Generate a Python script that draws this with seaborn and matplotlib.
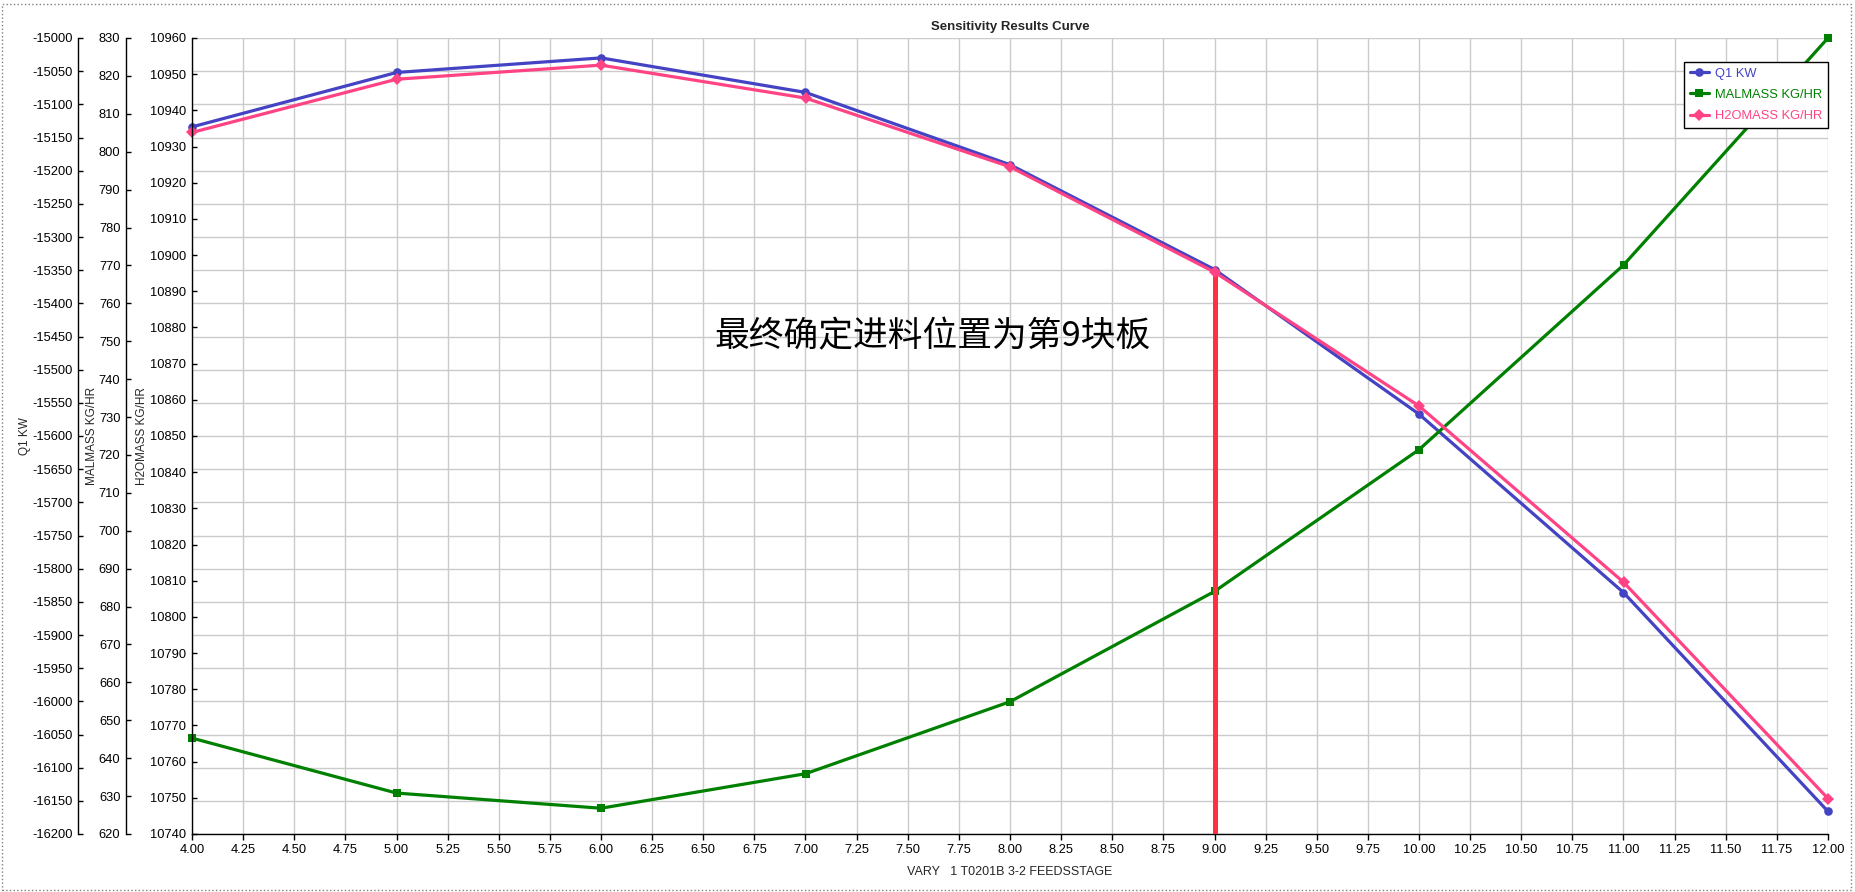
import matplotlib
matplotlib.use("Agg")
import matplotlib.pyplot as plt
import matplotlib.ticker as mticker
from matplotlib.patches import Rectangle
from matplotlib.lines import Line2D
import seaborn as sns
import numpy as np
import pandas as pd

# feed stage values (x) and the three result series
stages = [4, 5, 6, 7, 8, 9, 10, 11, 12]
q1_kw = [-15134, -15052, -15030, -15082, -15191, -15349, -15567, -15836, -16166]
malmass = [645.3, 630.8, 626.8, 635.9, 654.9, 684.0, 721.4, 770.1, 830.0]
h2omass = [10933.9, 10948.6, 10952.5, 10943.4, 10924.4, 10895.3, 10858.3, 10809.6, 10749.8]
chosen_stage = 9

df = pd.DataFrame({"stage": stages, "Q1 KW": q1_kw,
                   "MALMASS KG/HR": malmass, "H2OMASS KG/HR": h2omass})

sns.set_theme(style="white")
plt.rcParams["font.family"] = ["Liberation Sans", "DejaVu Sans"]
plt.rcParams["axes.unicode_minus"] = False

W, H = 1855, 892
fig = plt.figure(figsize=(W / 100, H / 100), dpi=100)
x0, x1, y0, y1 = 192, 1828, 38, 834
ax = fig.add_axes([x0 / W, 1 - y1 / H, (x1 - x0) / W, (y1 - y0) / H])
ax_m = ax.twinx()
ax_h = ax.twinx()

c_blue, c_green, c_pink, c_red = "#4343c4", "#008000", "#ff4384", "#ff3040"
lw = 2.3
ms = {"o": 6.2, "s": 6.0, "D": 6.4}

sns.lineplot(data=df, x="stage", y="Q1 KW", ax=ax, color=c_blue, lw=lw,
             marker="o", markersize=ms["o"], markeredgewidth=0, label="Q1 KW", legend=False)
sns.lineplot(data=df, x="stage", y="MALMASS KG/HR", ax=ax_m, color=c_green, lw=lw,
             marker="s", markersize=ms["s"], markeredgewidth=0, label="MALMASS KG/HR", legend=False)
sns.lineplot(data=df, x="stage", y="H2OMASS KG/HR", ax=ax_h, color=c_pink, lw=lw,
             marker="D", markersize=ms["D"], markeredgewidth=0, label="H2OMASS KG/HR", legend=False)

# red marker line for the chosen feed stage
h_at = h2omass[stages.index(chosen_stage)]
ax_h.vlines(chosen_stage, 10740, h_at, color=c_red, lw=3.6, zorder=1)

for a in (ax, ax_m, ax_h):
    for ln in a.get_lines():
        ln.set_clip_on(False)

# limits and ticks
ax.set_xlim(4, 12)
ax.xaxis.set_major_locator(mticker.MultipleLocator(0.25))
ax.xaxis.set_major_formatter(mticker.FormatStrFormatter("%.2f"))
ax.set_ylim(-16200, -15000)
ax.yaxis.set_major_locator(mticker.MultipleLocator(50))
ax_m.set_ylim(620, 830)
ax_m.yaxis.set_major_locator(mticker.MultipleLocator(10))
ax_h.set_ylim(10740, 10960)
ax_h.yaxis.set_major_locator(mticker.MultipleLocator(10))

ax.grid(True, color="#cbcbcb", lw=1.0)
ax.set_axisbelow(True)

pw = x1 - x0
for a, xs in ((ax, 78), (ax_m, 126), (ax_h, 192)):
    for s in a.spines.values():
        s.set_visible(False)
    a.spines["left"].set_visible(True)
    a.spines["left"].set_position(("axes", (xs - x0) / pw))
    a.spines["left"].set_color("black")
    a.spines["left"].set_linewidth(1.0)
    a.yaxis.set_ticks_position("left")
    a.yaxis.set_label_position("left")
    a.tick_params(axis="y", which="major", left=True, right=False, labelleft=True,
                  labelright=False, direction="in", length=3.5, width=1, color="black",
                  pad=4, labelsize=9.3, labelcolor="black")
ax.spines["bottom"].set_visible(True)
ax.spines["bottom"].set_color("black")
ax.spines["bottom"].set_linewidth(1.0)
ax.tick_params(axis="x", bottom=True, direction="out", length=4, width=1, color="black",
               pad=3, labelsize=9.3, labelcolor="black")
ax_m.patch.set_visible(False)
ax_h.patch.set_visible(False)

# axis titles
ax.set_xlabel("VARY   1 T0201B 3-2 FEEDSSTAGE", fontsize=9)
ax.xaxis.set_label_coords(0.5, -(866 - y1) / (y1 - y0))
for a, lbl, xr in ((ax, "Q1 KW", 31), (ax_m, "MALMASS KG/HR", 98), (ax_h, "H2OMASS KG/HR", 148)):
    a.set_ylabel(lbl, fontsize=8.5)
    a.yaxis.set_label_coords((xr - x0) / pw, 0.5)

ax.set_title("Sensitivity Results Curve", fontsize=9.5, fontweight="bold", pad=6)

# annotation
ax_h.text((932 - x0) / pw, 1 - (337 - y0) / (y1 - y0), "最终确定进料位置为第9块板",
          transform=ax_h.transAxes, ha="center", va="center", fontsize=25,
          family=["Noto Sans CJK SC", "DejaVu Sans"], color="black")

# legend
handles = [Line2D([], [], color=c_blue, lw=lw, marker="o", markersize=ms["o"], markeredgewidth=0),
           Line2D([], [], color=c_green, lw=lw, marker="s", markersize=ms["s"], markeredgewidth=0),
           Line2D([], [], color=c_pink, lw=lw, marker="D", markersize=ms["D"], markeredgewidth=0)]
leg = ax_h.legend(handles, ["Q1 KW", "MALMASS KG/HR", "H2OMASS KG/HR"],
                  loc="upper right", bbox_to_anchor=(1.0, 1 - (62 - y0) / (y1 - y0)),
                  borderaxespad=0, fancybox=False, framealpha=1, edgecolor="black",
                  fontsize=9.3, handlelength=1.5, handletextpad=0.45, labelspacing=0.7,
                  borderpad=0.45)
leg.get_frame().set_linewidth(1.0)
for t, c in zip(leg.get_texts(), (c_blue, c_green, c_pink)):
    t.set_color(c)

# dotted frame around the whole chart
fig.patches.append(Rectangle((2 / W, 2 / H), 1 - 6 / W, 1 - 6 / H, transform=fig.transFigure,
                             fill=False, edgecolor="#808080", lw=1, ls=":"))

fig.savefig("out.png", dpi=100)
